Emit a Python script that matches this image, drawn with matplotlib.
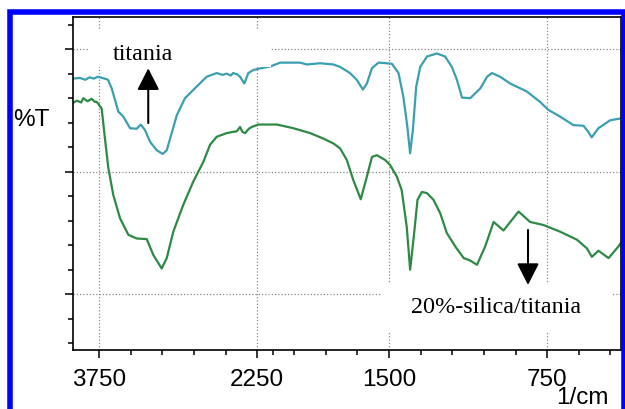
import numpy as np
import matplotlib
matplotlib.use("Agg")
import matplotlib.pyplot as plt
from matplotlib.patches import Rectangle

# FT-IR transmittance spectra (wavenumber in 1/cm, %T)
titania_wn = [4000, 3930, 3880, 3840, 3800, 3760, 3720, 3680, 3665, 3630, 3567, 3520,
              3456, 3393, 3355, 3314, 3267, 3203, 3146, 3108, 3061, 3013, 2935, 2824,
              2729, 2634, 2580, 2539, 2500, 2479, 2440, 2413, 2372, 2334, 2286, 2239,
              2180, 2121, 2033, 1960, 1922, 1889, 1827, 1764, 1732, 1685, 1653, 1624,
              1605, 1581, 1550, 1510, 1486, 1455, 1432, 1413, 1400, 1387, 1371, 1352,
              1320, 1273, 1234, 1202, 1178, 1154, 1115, 1067, 1035, 1012, 973, 926,
              847, 784, 745, 689, 626, 578, 555, 539, 507, 451, 400]
titania_t = [75.2, 75.3, 75.0, 75.4, 75.2, 75.5, 75.3, 75.1, 75.0, 73.6, 69.8, 69.0,
             67.1, 67.0, 67.7, 66.8, 64.9, 63.5, 62.9, 63.5, 66.3, 69.2, 72.0, 73.9,
             75.5, 76.1, 75.8, 76.0, 75.7, 76.1, 75.9, 75.5, 74.4, 76.1, 76.6, 76.8,
             77.0, 77.2, 77.8, 77.8, 77.8, 77.5, 77.7, 77.5, 77.1, 76.1, 75.0, 73.4,
             74.4, 76.9, 77.8, 77.7, 77.6, 76.1, 72.2, 67.3, 63.0, 66.8, 73.9, 77.1,
             78.8, 79.3, 78.8, 77.1, 75.0, 72.1, 72.0, 73.6, 75.5, 76.1, 75.5, 74.4,
             73.1, 71.4, 70.1, 69.0, 67.6, 67.5, 66.5, 65.6, 67.1, 68.4, 68.7]

silica_wn = [4000, 3960, 3920, 3899, 3860, 3820, 3790, 3772, 3725, 3694, 3662, 3615,
             3551, 3472, 3393, 3298, 3235, 3156, 3108, 3046, 2951, 2856, 2761, 2697,
             2634, 2539, 2480, 2444, 2413, 2390, 2365, 2330, 2302, 2239, 2150, 2064,
             1954, 1874, 1811, 1763, 1732, 1700, 1669, 1634, 1605, 1581, 1558, 1518,
             1495, 1463, 1440, 1416, 1400, 1384, 1365, 1344, 1320, 1289, 1257, 1226,
             1186, 1146, 1115, 1083, 1044, 1004, 957, 886, 831, 768, 688, 609,
             562, 538, 507, 459, 412, 400]
silica_t = [71.2, 71.6, 71.3, 72.0, 71.5, 71.9, 71.4, 71.4, 70.3, 65.4, 60.6, 56.2,
            52.4, 49.7, 49.1, 49.0, 46.4, 44.2, 45.9, 50.2, 54.6, 58.4, 61.6, 64.4,
            65.7, 66.3, 66.5, 66.6, 67.3, 66.5, 66.3, 67.0, 67.3, 67.7, 67.7, 67.7,
            67.1, 66.3, 65.4, 64.6, 63.8, 61.9, 58.6, 55.5, 59.2, 62.4, 62.7, 61.9,
            61.1, 59.2, 57.0, 51.0, 44.0, 48.9, 55.4, 56.7, 56.5, 55.4, 53.2, 50.0,
            47.8, 45.9, 45.5, 44.8, 47.8, 51.8, 50.4, 53.5, 51.8, 51.3, 50.2, 48.9,
            47.5, 46.1, 47.1, 45.9, 47.8, 48.4]

x_major = [3750, 2250, 1500, 750]
x_minor = [3450, 3150, 2850, 2550, 2100, 1950, 1800, 1650, 1350, 1200, 1050, 900, 600, 450]
y_major = [40, 60, 80]
y_minor = [32, 36, 44, 48, 52, 56, 64, 68, 72, 76, 84]

TEAL = '#3a9fb1'
GREEN = '#2d8a45'
SANS = 'Liberation Sans'
SERIF = 'Liberation Serif'


# spectrometer-style axis: below 2000 1/cm the scale is doubled
def fwd(x):
    x = np.asarray(x, dtype=float)
    return np.where(x >= 2000, x, 2 * x - 2000)


def inv(u):
    u = np.asarray(u, dtype=float)
    return np.where(u >= 2000, u, (u + 2000) / 2)


fig = plt.figure(figsize=(6.25, 4.09), dpi=100)
ax = fig.add_axes([0.1163, 0.1443, 0.8773, 0.8134])

ax.set_xscale('function', functions=(fwd, inv))
ax.set_xlim(4000, 400)
ax.set_ylim(30.9, 85.2)

ax.plot(titania_wn, titania_t, color=TEAL, lw=1.6, zorder=2)
ax.plot(silica_wn, silica_t, color=GREEN, lw=1.6, zorder=2)

ax.set_xticks(x_major)
ax.set_xticklabels([str(v) for v in x_major])
ax.set_xticks(x_minor, minor=True)
ax.set_yticks(y_major)
ax.set_yticklabels([])
ax.set_yticks(y_minor, minor=True)

ax.tick_params(which='major', length=6, width=1.1, color='black')
ax.tick_params(which='minor', length=3.6, width=1.1, color='black')
ax.tick_params(axis='x', which='major', labelsize=17.5, pad=7.5)
for lab in ax.get_xticklabels():
    lab.set_family(SANS)

for s in ax.spines.values():
    s.set_linewidth(1.2)
    s.set_color('black')

ax.grid(True, which='major', color='#8a8a8a', linestyle=(0, (1, 1.6)), lw=0.9)

# white label panels sitting over the grid and traces
ax.add_patch(Rectangle((0.0279, 0.8506), 0.3329, 0.1142, transform=ax.transAxes,
                       facecolor='white', edgecolor='none', zorder=3))
ax.add_patch(Rectangle((0.5641, 0.0571), 0.4194, 0.1443, transform=ax.transAxes,
                       facecolor='white', edgecolor='none', zorder=3))

ax.text(0.1291, 0.8717, 'titania', transform=ax.transAxes, ha='center', va='baseline',
        fontsize=17.4, family=SERIF, zorder=4)
ax.text(0.7729, 0.1112, '20%-silica/titania', transform=ax.transAxes, ha='center',
        va='baseline', fontsize=17.4, family=SERIF, zorder=4)

arrow = dict(arrowstyle='-|>,head_length=0.55,head_width=0.28', mutation_scale=24,
             color='black', lw=1.5, shrinkA=0, shrinkB=0)
ax.annotate('', xy=(0.1378, 0.8467), xytext=(0.1378, 0.6823), xycoords='axes fraction',
            textcoords='axes fraction', arrowprops=arrow, zorder=4)
ax.annotate('', xy=(0.8304, 0.1954), xytext=(0.8304, 0.3607), xycoords='axes fraction',
            textcoords='axes fraction', arrowprops=arrow, zorder=4)

fig.text(0.0504, 0.7054, '%T', ha='center', va='center', fontsize=17.5, family=SANS)
fig.text(0.9744, 0.0269, '1/cm', ha='right', va='center', fontsize=17.5, family=SANS)

# blue outer frame
fig.patches.append(Rectangle((0.01568, -0.0073), 0.9827, 0.9775, transform=fig.transFigure,
                             fill=False, edgecolor='#0000ff', lw=4.0, zorder=10))

fig.savefig('out.png', dpi=100)
